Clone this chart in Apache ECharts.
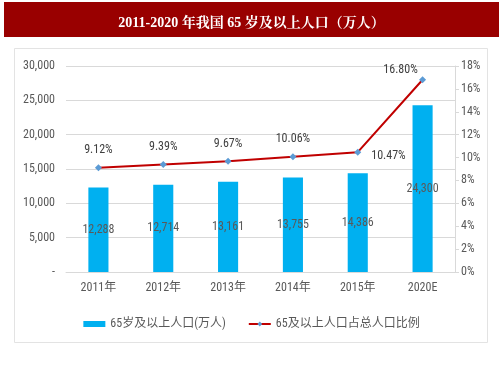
<!DOCTYPE html>
<html><head><meta charset="utf-8">
<script src="https://cdn.jsdelivr.net/npm/echarts@6/dist/echarts.min.js"></script>
<style>html,body{margin:0;padding:0;background:#fff}#c{width:503px;height:378px}</style>
</head><body><div id="c"></div>
<script>
var categories = ['2011年','2012年','2013年','2014年','2015年','2020E'];
var population = [12288, 12714, 13161, 13755, 14386, 24300];
var ratio = [9.12, 9.39, 9.67, 10.06, 10.47, 16.80];
var barName = '65岁及以上人口(万人)';
var lineName = '65及以上人口占总人口比例';
var titleText = '2011-2020 年我国 65 岁及以上人口（万人）';

var font = '"Liberation Sans Narrow","Roboto Condensed","Noto Sans CJK SC",sans-serif';
var chart = echarts.init(document.getElementById('c'), null, {renderer:'canvas'});
chart.setOption({
  animation:false,
  backgroundColor:'#fff',
  title:{text:titleText,left:'center',top:11,textStyle:{color:'#fff',fontSize:14,fontWeight:'bold',fontFamily:'"Liberation Serif","Noto Serif CJK SC","Noto Sans CJK SC",serif'}},
  graphic:[
    {type:'rect',z:-1,shape:{x:4,y:2,width:495,height:35},style:{fill:'#990000'}},
    {type:'rect',z:-1,shape:{x:14.5,y:48.5,width:473,height:294},style:{fill:'#fff',stroke:'#e3e3e3',lineWidth:1}}
  ],
  grid:{left:66,right:48,top:66,bottom:106},
  legend:{bottom:43,left:'center',itemGap:22,itemWidth:22,itemHeight:6,
    textStyle:{color:'#595959',fontSize:12,fontFamily:font},
    data:[{name:barName,icon:'rect'},{name:lineName}]},
  xAxis:{type:'category',data:categories,
    axisLine:{lineStyle:{color:'#d9d9d9'}},axisTick:{show:false},
    axisLabel:{color:'#595959',fontSize:12,fontFamily:font,margin:10}},
  yAxis:[
    {type:'value',min:0,max:30000,interval:5000,
      axisLine:{show:false},axisTick:{show:false},
      splitLine:{lineStyle:{color:'#d9d9d9'}},
      axisLabel:{color:'#595959',fontSize:12,fontFamily:font,margin:11,
        formatter:function(v){return v===0?'-':v.toLocaleString('en-US');}}},
    {type:'value',min:0,max:18,interval:2,position:'right',
      axisLine:{show:true,lineStyle:{color:'#d9d9d9'}},
      axisTick:{show:true,length:4,lineStyle:{color:'#d9d9d9'}},
      splitLine:{show:false},
      axisLabel:{color:'#595959',fontSize:12,fontFamily:font,margin:6,formatter:'{value}%'}}
  ],
  series:[
    {name:barName,type:'bar',data:population,barWidth:'31%',
      itemStyle:{color:'#00b0f0'},
      label:{show:true,position:'inside',color:'#595959',fontSize:12,fontFamily:font,
        formatter:function(p){return p.value.toLocaleString('en-US');}}},
    {name:lineName,type:'line',yAxisIndex:1,data:ratio.map(function(v,i){
        var lbl = {};
        if(i===4){lbl={position:'right',offset:[2,4]};}
        if(i===5){lbl={position:'top',offset:[-22,8]};}
        return {value:v,label:lbl};
      }),
      symbol:'diamond',symbolSize:7,
      lineStyle:{color:'#c00000',width:2},
      itemStyle:{color:'#5b9bd5'},
      label:{show:true,position:'top',distance:8,color:'#404040',fontSize:12,fontFamily:font,
        formatter:function(p){return p.value.toFixed(2)+'%';}}}
  ]
});
</script></body></html>
